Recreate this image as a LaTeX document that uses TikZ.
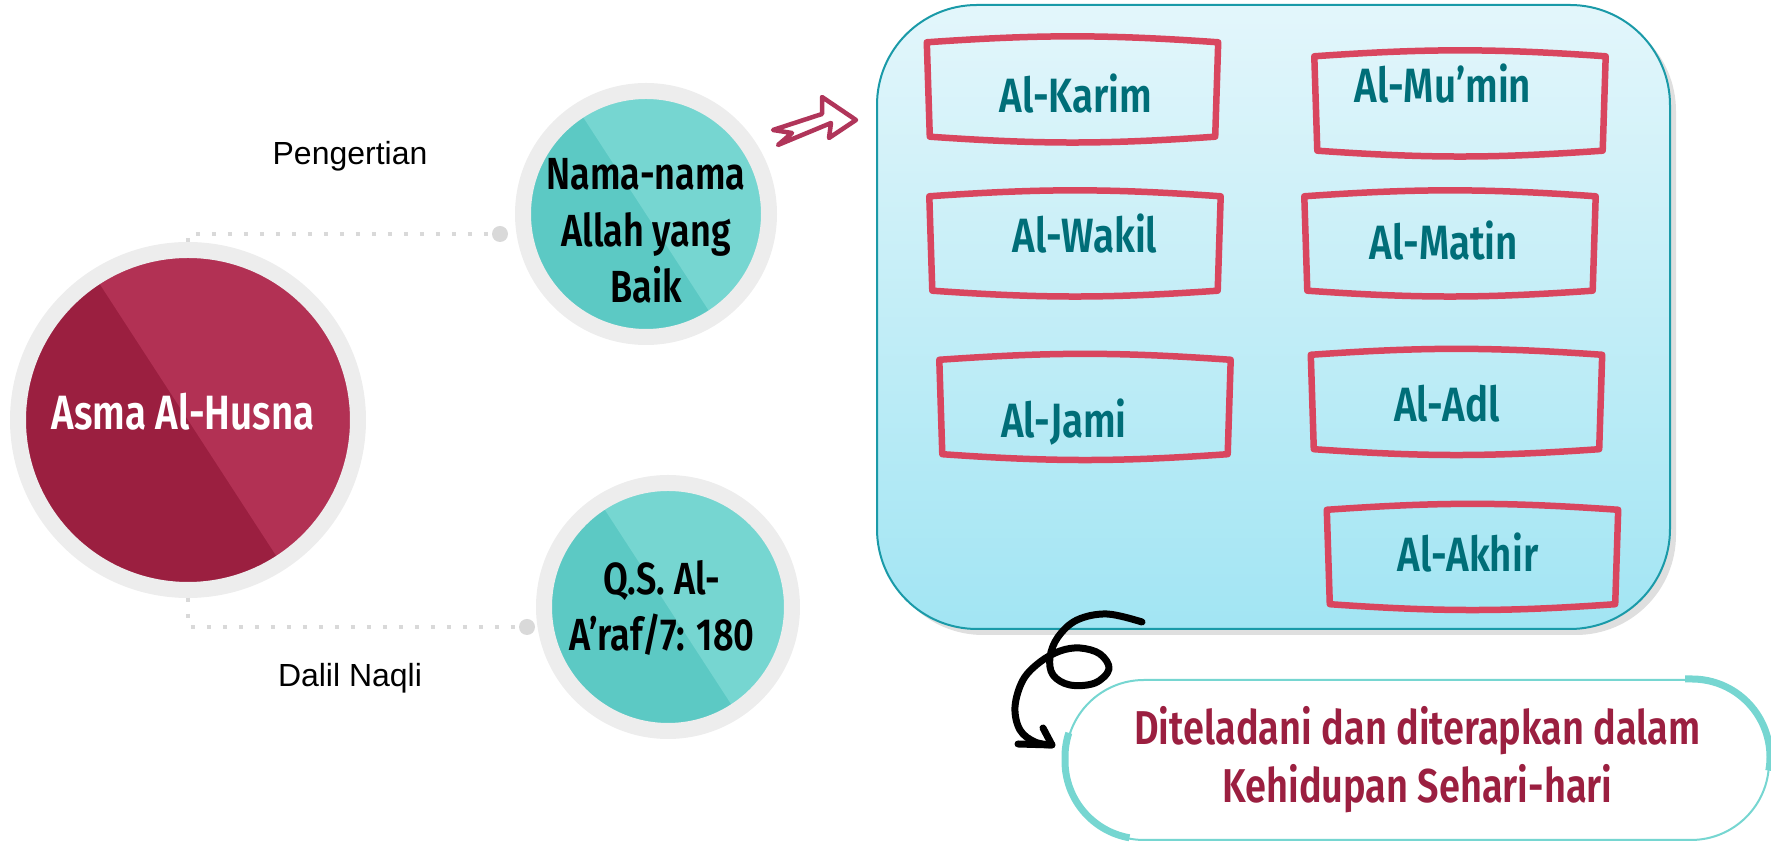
\documentclass[tikz,border=0pt]{standalone}
\usepackage{fontspec}
\setmainfont{Liberation Sans}
\newfontfamily\condfont{Fira Sans SemiBold}[FakeStretch=0.8]
\usepackage{tikz}
\usetikzlibrary{shadows}

\definecolor{crimsondark}{HTML}{9B1F40}
\definecolor{crimsonlight}{HTML}{B23154}
\definecolor{ringgray}{HTML}{EDEDED}
\definecolor{tealdark}{HTML}{5CC9C4}
\definecolor{teallight}{HTML}{76D6D1}
\definecolor{dotgray}{HTML}{D9D9D9}
\definecolor{arrowred}{HTML}{B0355A}
\definecolor{boxtop}{HTML}{E3F6FB}
\definecolor{boxbottom}{HTML}{A2E5F3}
\definecolor{boxborder}{HTML}{1A9AA8}
\definecolor{sketchred}{HTML}{D9465F}
\definecolor{nameteal}{HTML}{006E78}

\begin{document}
\begin{tikzpicture}[
    disc/.style={circle, draw=ringgray, line width=0.16cm, inner sep=0pt},
    halfshade/.style={path picture={\fill[#1] (path picture bounding box.center) ++(123:4) -- ++(33:4) -- ++(-57:8) -- ++(213:4) -- cycle;}},
    circletext/.style={font=\condfont\fontsize{12.8}{16}\selectfont, align=center},
    sidelabel/.style={font=\fontsize{9.1}{11}\selectfont},
    dotline/.style={draw=dotgray, line width=0.04cm, dash pattern=on 0.04cm off 0.12cm},
    enddot/.style={circle, fill=dotgray, minimum size=0.16cm, inner sep=0pt},
    namebox/.style={minimum width=2.82cm, minimum height=0.92cm, inner sep=0pt},
    sketch/.style={draw=sketchred, line width=0.065cm, line cap=round, line join=round},
    nametext/.style={anchor=base, text=nameteal, font=\condfont\fontsize{13.7}{16}\selectfont},
    pillthick/.style={draw=teallight, line width=0.07cm},
    curl/.style={draw=black, line width=0.07cm, line cap=round, line join=round},
]
    \useasboundingbox (0,0) rectangle (17.71,8.43);

    % circles on the left
    \node[disc, fill=crimsondark, halfshade=crimsonlight, minimum size=3.4cm] (husna) at (1.88,4.23) {};
    \node[anchor=base, text=white, font=\condfont\fontsize{13.7}{16}\selectfont] (husna-t) at (1.83,4.13) {Asma Al-Husna};
    \node[disc, fill=tealdark, halfshade=teallight, minimum size=2.46cm] (nama) at (6.46,6.29) {};
    \node[circletext] (nama-t) at (6.46,6.12) {Nama-nama\\Allah yang\\Baik};
    \node[disc, fill=tealdark, halfshade=teallight, minimum size=2.48cm] (dalil) at (6.68,2.36) {};
    \node[circletext] (dalil-t) at (6.62,2.35) {Q.S. Al-\\A’raf/7: 180};

    % dotted links
    \node[enddot] (topdot) at (5.00,6.09) {};
    \node[enddot] (botdot) at (5.27,2.16) {};
    \draw[dotline] (husna.north) |- (topdot);
    \draw[dotline] (husna.south) |- (botdot);
    \node[sidelabel] (pengertian) at (3.50,6.87) {Pengertian};
    \node[sidelabel] (naqli) at (3.50,1.65) {Dalil Naqli};

    % sketched arrow
    \draw[arrowred, fill=white, line width=0.045cm, line join=round] (7.73,7.13) -- (8.22,7.29) -- (8.22,7.46) -- (8.56,7.23) -- (8.29,7.05) -- (8.31,7.20) -- (7.78,6.98) -- (7.92,7.10) -- cycle;

    % names panel
    \node[draw=boxborder, line width=0.02cm, rounded corners=1cm, top color=boxtop, bottom color=boxbottom,
          minimum width=7.93cm, minimum height=6.24cm,
          drop shadow={shadow xshift=0.06cm, shadow yshift=-0.06cm, opacity=0.25}] (namesbox) at (12.735,5.26) {};

    \node[namebox] (karim) at (10.725,7.53) {};
    \node[namebox] (wakil) at (10.75,5.99) {};
    \node[namebox] (mumin) at (14.60,7.39) {};
    \node[namebox] (matin) at (14.50,5.99) {};
    \node[namebox] (jami) at (10.85,4.355) {};
    \node[namebox] (adl) at (14.565,4.405) {};
    \node[namebox] (akhir) at (14.725,2.855) {};
    \foreach \b in {karim,wakil,mumin,matin,jami,adl,akhir}
        \draw[sketch] ([shift={(-0.04,0.01)}]\b.north west) to[bend left=4] ([shift={(0.04,0.01)}]\b.north east)
            -- ([xshift=0.01cm]\b.south east) to[bend left=4] ([xshift=-0.01cm]\b.south west) -- cycle;

    \node[nametext] (karim-t) at (10.76,7.30) {Al-Karim};
    \node[nametext] (wakil-t) at (10.85,5.90) {Al-Wakil};
    \node[nametext] (mumin-t) at (14.43,7.40) {Al-Mu’min};
    \node[nametext] (matin-t) at (14.44,5.83) {Al-Matin};
    \node[nametext] (jami-t) at (10.64,4.05) {Al-Jami};
    \node[nametext] (adl-t) at (14.47,4.21) {Al-Adl};
    \node[nametext] (akhir-t) at (14.68,2.71) {Al-Akhir};

    % curly arrow down to the pill
    \coordinate (curlstart) at (11.42,2.21);
    \coordinate (curltip) at (10.52,0.98);
    \draw[curl] plot[smooth, tension=0.6] coordinates {(curlstart) (11.07,2.29) (10.77,2.23) (10.58,2.06) (10.50,1.86)
        (10.53,1.68) (10.70,1.58) (10.95,1.60) (11.09,1.74) (11.00,1.89) (10.80,1.95) (10.60,1.92)
        (10.40,1.81) (10.23,1.63) (10.15,1.36) (10.20,1.13) (10.35,1.01) (curltip)};
    \draw[curl] (10.43,1.15) -- (curltip) -- (10.18,0.99);

    \node[draw=teallight, line width=0.02cm, rounded corners=0.78cm, fill=white, minimum width=7.03cm, minimum height=1.60cm,
          align=center, text=crimsondark, font=\condfont\fontsize{13.5}{16.5}\selectfont] (pill) at (14.175,0.83)
          {Diteladani dan diterapkan dalam\\Kehidupan Sehari-hari};
    \draw[pillthick] ([xshift=-0.85cm]pill.north east) -- ([xshift=-0.78cm]pill.north east) arc[start angle=90, end angle=-10, radius=0.78cm];
    \draw[pillthick] ([shift={(0.78cm,-0.78cm)}]pill.north west) ++(162:0.78cm) arc[start angle=162, end angle=180, radius=0.78cm]
        -- ++(0,-0.04) arc[start angle=180, end angle=260, radius=0.78cm];
\end{tikzpicture}
\end{document}
